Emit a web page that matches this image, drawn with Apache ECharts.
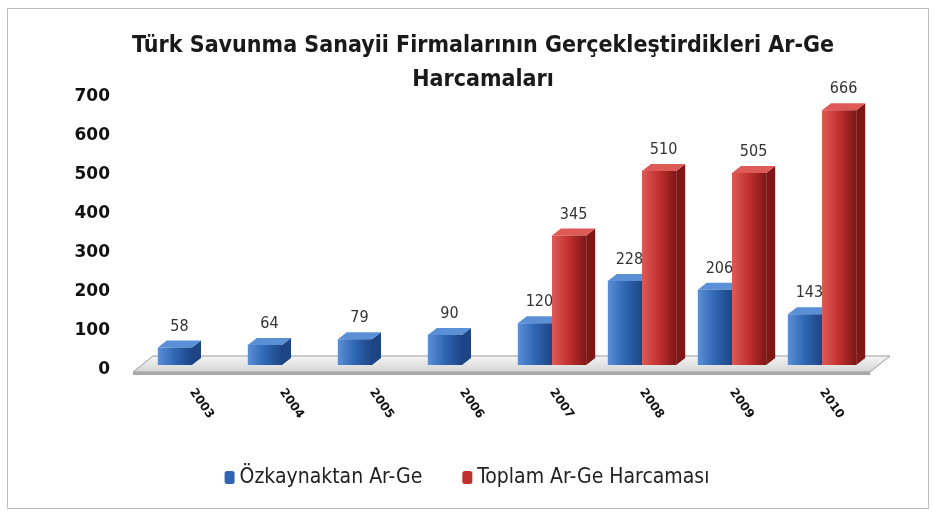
<!DOCTYPE html>
<html>
<head>
<meta charset="utf-8">
<script src="https://cdn.jsdelivr.net/npm/echarts@6/dist/echarts.min.js"></script>
<style>
  html, body { margin: 0; padding: 0; background: #fff; }
  #main { width: 934px; height: 513px; }
</style>
</head>
<body>
<div id="main"></div>
<script>
var years = ['2003', '2004', '2005', '2006', '2007', '2008', '2009', '2010'];
var ozkaynak = [58, 64, 79, 90, 120, 228, 206, 143];
var toplam = [null, null, null, null, 345, 510, 505, 666];
var yTicks = [0, 100, 200, 300, 400, 500, 600, 700];

var myChart = echarts.init(document.getElementById('main'));

// 3B görünüm için derinlik
var DX = 9, DY = -7;
var NARROW = '"Liberation Sans Narrow", "DejaVu Sans Condensed", sans-serif';

function bar3d(side, front, dark, light) {
    return function (params, api) {
        var val = api.value(1);
        if (val == null || isNaN(val)) return;
        var base = api.coord([api.value(0), 0]);
        var top = api.coord([api.value(0), val]);
        var w = api.size([1, 0])[0] * 0.38;
        var x0 = side < 0 ? base[0] - w : base[0];
        var x1 = x0 + w;
        var y0 = base[1] - 5, y1 = top[1];
        return {
            type: 'group',
            children: [
                { type: 'polygon', shape: { points: [[x1, y0], [x1 + DX, y0 + DY], [x1 + DX, y1 + DY], [x1, y1]] }, style: { fill: dark } },
                { type: 'polygon', shape: { points: [[x0, y1], [x1, y1], [x1 + DX, y1 + DY], [x0 + DX, y1 + DY]] }, style: { fill: light } },
                { type: 'rect', shape: { x: x0, y: y1, width: w, height: y0 - y1 },
                  style: { fill: new echarts.graphic.LinearGradient(0, 0, 1, 0, [{ offset: 0, color: light }, { offset: 0.5, color: front }, { offset: 1, color: dark }]) } },
                { type: 'text', x: x0 + w / 2 + DX / 2, y: y1 + DY - 6,
                  style: { text: String(val), fill: '#333', font: '16px ' + NARROW, align: 'center', verticalAlign: 'bottom' } }
            ]
        };
    };
}

option = {
    backgroundColor: '#fff',
    graphic: [{
        type: 'rect', left: 5, top: 6, shape: { width: 921, height: 500 },
        style: { fill: 'none', stroke: '#bdbdbd', lineWidth: 1 }
    }],
    title: {
        text: 'Türk Savunma Sanayii Firmalarının Gerçekleştirdikleri Ar-Ge\nHarcamaları',
        left: 478, top: 24, textAlign: 'center',
        textStyle: { fontSize: 23, fontWeight: 'bold', color: '#1a1a1a', lineHeight: 34, fontFamily: NARROW }
    },
    legend: {
        bottom: 20, left: 'center', itemGap: 40, itemWidth: 10, itemHeight: 13,
        textStyle: { fontSize: 21, color: '#222', fontFamily: NARROW },
        data: [
            { name: 'Özkaynaktan Ar-Ge', itemStyle: { color: '#2f66b3' } },
            { name: 'Toplam Ar-Ge Harcaması', itemStyle: { color: '#c0302e' } }
        ]
    },
    grid: { left: 147, right: 67, top: 97, bottom: 143 },
    xAxis: {
        type: 'category', data: years,
        axisLine: { show: false }, axisTick: { show: false },
        axisLabel: { rotate: -55, margin: 20, fontSize: 12, fontWeight: 'bold', color: '#111', fontFamily: 'DejaVu Sans' }
    },
    yAxis: {
        type: 'value', min: 0, max: 700, interval: 100,
        splitLine: { show: false }, axisLine: { show: false }, axisTick: { show: false },
        axisLabel: { margin: 37, fontSize: 17, fontWeight: 'bold', color: '#111', fontFamily: 'DejaVu Sans',
            formatter: function (v) { return yTicks.indexOf(v) >= 0 ? String(v) : ''; } }
    },
    series: [
        {
            // zemin
            type: 'custom', silent: true, z: 1,
            data: [[0, 0]],
            renderItem: function (params, api) {
                var cs = params.coordSys;
                var yb = cs.y + cs.height;
                var xl = cs.x - 14, xr = cs.x + cs.width + 3;
                return {
                    type: 'group',
                    children: [
                        { type: 'polygon', shape: { points: [[xl, yb + 2], [xr, yb + 2], [xr + 20, yb - 14], [xl + 20, yb - 14]] },
                          style: { fill: new echarts.graphic.LinearGradient(0, 0, 0, 1, [{ offset: 0, color: '#f6f6f6' }, { offset: 1, color: '#d4d4d4' }]), stroke: '#9a9a9a', lineWidth: 1 } },
                        { type: 'polygon', shape: { points: [[xl, yb + 2], [xr, yb + 2], [xr, yb + 5], [xl, yb + 5]] },
                          style: { fill: '#a8a8a8' } }
                    ]
                };
            }
        },
        {
            name: 'Özkaynaktan Ar-Ge', type: 'custom', z: 2,
            data: ozkaynak.map(function (v, i) { return [i, v]; }),
            renderItem: bar3d(-1, '#2f66b3', '#1d4585', '#5b8fd6')
        },
        {
            name: 'Toplam Ar-Ge Harcaması', type: 'custom', z: 3,
            data: toplam.map(function (v, i) { return [i, v]; }),
            renderItem: bar3d(1, '#c0302e', '#7e1716', '#de5a56')
        }
    ]
};
myChart.setOption(option);
</script>
</body>
</html>
